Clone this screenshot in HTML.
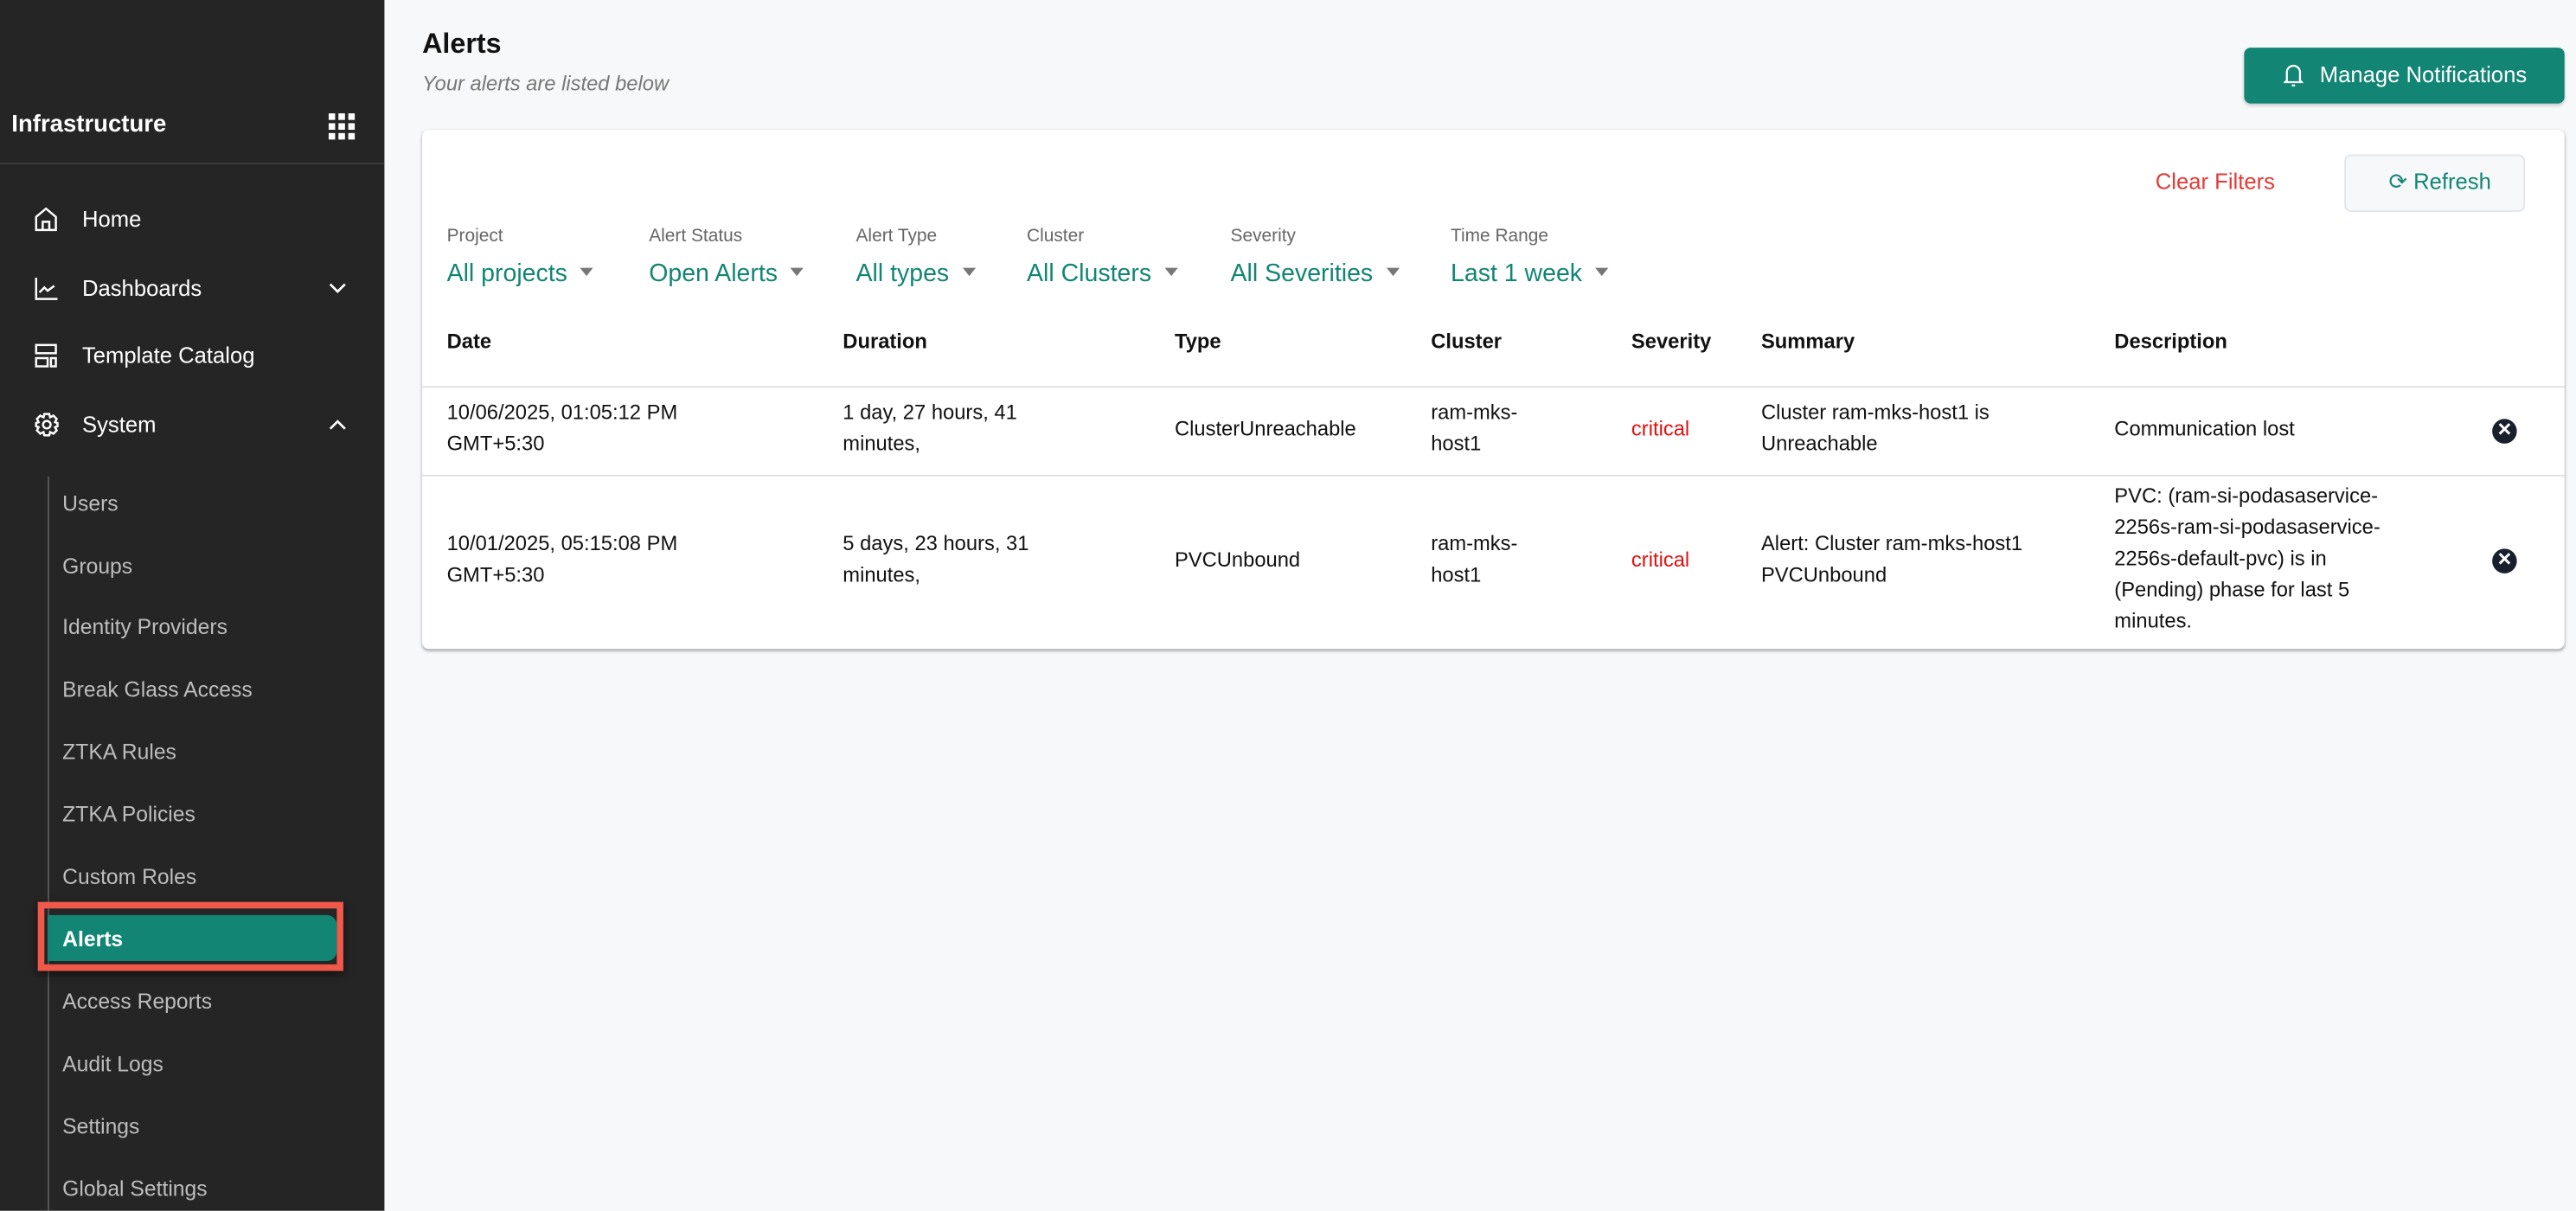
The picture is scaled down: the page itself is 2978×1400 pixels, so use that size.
<!DOCTYPE html>
<html><head><meta charset="utf-8"><style>
html,body{margin:0;padding:0;width:2978px;height:1400px;overflow:hidden;background:#f7f8fa}
#s{position:absolute;left:0;top:0;width:1568px;height:737px;transform:scale(1.89923);transform-origin:0 0;font-family:"Liberation Sans",sans-serif;}
.a{position:absolute;white-space:nowrap;line-height:1}
.side{position:absolute;left:0;top:0;width:234px;height:737px;background:#252525}
.nav{color:#fff;font-size:13.5px}
.sub{color:#bdbdbd;font-size:13px}
.lbl{color:#666;font-size:11px}
.val{color:#128574;font-size:15px}
.car{display:inline-block;width:0;height:0;border-left:4.5px solid transparent;border-right:4.5px solid transparent;border-top:5px solid #777;margin-left:8px;vertical-align:3px}
.th{font-weight:bold;font-size:12.5px;color:#111}
.td{font-size:12.5px;color:#111;line-height:19px}
.crit{color:#e01010;font-size:12.5px}
.x{position:absolute;width:15px;height:15px;border-radius:50%;background:#1a1f2e;color:#fff;font-size:11px;line-height:15px;text-align:center;font-weight:bold}
</style></head><body><div id="s">
<div class="side">
<div class="a" style="left:7px;top:69px;color:#fff;font-weight:bold;font-size:14.5px">Infrastructure</div>
<svg style="position:absolute;left:200px;top:69px" width="16" height="16"><g fill="#fff"><rect x="0" y="0" width="4" height="4"/><rect x="6" y="0" width="4" height="4"/><rect x="12" y="0" width="4" height="4"/><rect x="0" y="6" width="4" height="4"/><rect x="6" y="6" width="4" height="4"/><rect x="12" y="6" width="4" height="4"/><rect x="0" y="12" width="4" height="4"/><rect x="6" y="12" width="4" height="4"/><rect x="12" y="12" width="4" height="4"/></g></svg>
<div style="position:absolute;left:0;top:99px;width:234px;height:1px;background:#3c3c3c"></div>
<svg style="position:absolute;left:21px;top:126px" width="14" height="15" fill="none" stroke="#fff" stroke-width="1.3"><path d="M1 6 L7 1 L13 6 V14 H1 Z M5 14 V9 H9 V14"/></svg>
<div class="a nav" style="left:50px;top:127px">Home</div>
<svg style="position:absolute;left:21px;top:168px" width="14" height="15" fill="none" stroke="#fff" stroke-width="1.3"><path d="M1 1 V14 H14 M3 10 L6 7 L8 9 L12 6"/></svg>
<div class="a nav" style="left:50px;top:169px">Dashboards</div>
<svg style="position:absolute;left:200px;top:172px" width="11" height="7" fill="none" stroke="#fff" stroke-width="1.4"><path d="M1 1 L5.5 5.5 L10 1"/></svg>
<svg style="position:absolute;left:21px;top:209px" width="14" height="15" fill="none" stroke="#fff" stroke-width="1.3"><rect x="1" y="1" width="12" height="5"/><rect x="1" y="9" width="7" height="5"/><rect x="10" y="9" width="3" height="5"/></svg>
<div class="a nav" style="left:50px;top:210px">Template Catalog</div>
<svg style="position:absolute;left:21px;top:251px" width="15" height="15" fill="none" stroke="#fff" stroke-width="1.3"><circle cx="7.5" cy="7.5" r="2.3"/><path d="M6 1 H9 L9.5 3 L11.5 2 L13.5 4 L12.5 6 L14 6.5 V8.5 L12.5 9 L13.5 11 L11.5 13 L9.5 12 L9 14 H6 L5.5 12 L3.5 13 L1.5 11 L2.5 9 L1 8.5 V6.5 L2.5 6 L1.5 4 L3.5 2 L5.5 3 Z"/></svg>
<div class="a nav" style="left:50px;top:252px">System</div>
<svg style="position:absolute;left:200px;top:255px" width="11" height="7" fill="none" stroke="#fff" stroke-width="1.4"><path d="M1 6 L5.5 1.5 L10 6"/></svg>
<div style="position:absolute;left:29px;top:290px;width:1px;height:447px;background:#555"></div>
<div class="a sub" style="left:38px;top:300px">Users</div>
<div class="a sub" style="left:38px;top:338px">Groups</div>
<div class="a sub" style="left:38px;top:375px">Identity Providers</div>
<div class="a sub" style="left:38px;top:413px">Break Glass Access</div>
<div class="a sub" style="left:38px;top:451px">ZTKA Rules</div>
<div class="a sub" style="left:38px;top:489px">ZTKA Policies</div>
<div class="a sub" style="left:38px;top:527px">Custom Roles</div>
<div style="position:absolute;left:23px;top:549px;width:178px;height:34px;border:4px solid #f0584a;box-shadow:0 2px 5px rgba(0,0,0,.6)"></div>
<div style="position:absolute;left:29px;top:557px;width:176px;height:28px;background:#128574;border-radius:0 6px 6px 0"></div>
<div class="a" style="left:38px;top:565px;color:#fff;font-weight:bold;font-size:13px">Alerts</div>
<div class="a sub" style="left:38px;top:603px">Access Reports</div>
<div class="a sub" style="left:38px;top:641px">Audit Logs</div>
<div class="a sub" style="left:38px;top:679px">Settings</div>
<div class="a sub" style="left:38px;top:717px">Global Settings</div>
</div>

<div class="a" style="left:257px;top:18px;font-weight:bold;font-size:17px;color:#111">Alerts</div>
<div class="a" style="left:257px;top:45px;font-style:italic;font-size:12.5px;color:#777">Your alerts are listed below</div>
<div style="position:absolute;left:1366px;top:29px;width:195px;height:34px;background:#128574;border-radius:4px;box-shadow:0 1px 2px rgba(0,0,0,.2)"></div>
<svg style="position:absolute;left:1390px;top:38px" width="12" height="16" fill="none" stroke="#fff" stroke-width="1.2"><path d="M2 11 V6 A4 4 0 0 1 10 6 V11 L11 12 H1 Z M5 14 H7"/></svg>
<div class="a" style="left:1412px;top:39px;color:#fff;font-size:13.5px">Manage Notifications</div>

<div style="position:absolute;left:257px;top:79px;width:1304px;height:316px;background:#fff;border-radius:4px;box-shadow:0 1px 2px rgba(0,0,0,.35)"></div>
<div class="a" style="left:1312px;top:104px;color:#e53935;font-size:13.5px">Clear Filters</div>
<div style="position:absolute;left:1427px;top:94px;width:108px;height:33px;background:#f7f8fa;border:1px solid #e2e6ea;border-radius:4px"></div>
<div class="a" style="left:1454px;top:104px;color:#128574;font-size:13.5px">⟳ Refresh</div>

<div class="a lbl" style="left:272px;top:139px">Project</div>
<div class="a lbl" style="left:395px;top:139px">Alert Status</div>
<div class="a lbl" style="left:521px;top:139px">Alert Type</div>
<div class="a lbl" style="left:625px;top:139px">Cluster</div>
<div class="a lbl" style="left:749px;top:139px">Severity</div>
<div class="a lbl" style="left:883px;top:139px">Time Range</div>
<div class="a val" style="left:272px;top:159px">All projects<span class="car"></span></div>
<div class="a val" style="left:395px;top:159px">Open Alerts<span class="car"></span></div>
<div class="a val" style="left:521px;top:159px">All types<span class="car"></span></div>
<div class="a val" style="left:625px;top:159px">All Clusters<span class="car"></span></div>
<div class="a val" style="left:749px;top:159px">All Severities<span class="car"></span></div>
<div class="a val" style="left:883px;top:159px">Last 1 week<span class="car"></span></div>

<div class="a th" style="left:272px;top:202px">Date</div>
<div class="a th" style="left:513px;top:202px">Duration</div>
<div class="a th" style="left:715px;top:202px">Type</div>
<div class="a th" style="left:871px;top:202px">Cluster</div>
<div class="a th" style="left:993px;top:202px">Severity</div>
<div class="a th" style="left:1072px;top:202px">Summary</div>
<div class="a th" style="left:1287px;top:202px">Description</div>
<div style="position:absolute;left:257px;top:235px;width:1304px;height:1px;background:#e0e0e0"></div>
<div style="position:absolute;left:257px;top:289px;width:1304px;height:1px;background:#e0e0e0"></div>

<div class="a td" style="left:272px;top:242px">10/06/2025, 01:05:12 PM<br>GMT+5:30</div>
<div class="a td" style="left:513px;top:242px">1 day, 27 hours, 41<br>minutes,</div>
<div class="a td" style="left:715px;top:252px">ClusterUnreachable</div>
<div class="a td" style="left:871px;top:242px">ram-mks-<br>host1</div>
<div class="a crit" style="left:993px;top:255px">critical</div>
<div class="a td" style="left:1072px;top:242px">Cluster ram-mks-host1 is<br>Unreachable</div>
<div class="a td" style="left:1287px;top:252px">Communication lost</div>
<div class="x" style="left:1517px;top:255px">✕</div>

<div class="a td" style="left:272px;top:322px">10/01/2025, 05:15:08 PM<br>GMT+5:30</div>
<div class="a td" style="left:513px;top:322px">5 days, 23 hours, 31<br>minutes,</div>
<div class="a td" style="left:715px;top:332px">PVCUnbound</div>
<div class="a td" style="left:871px;top:322px">ram-mks-<br>host1</div>
<div class="a crit" style="left:993px;top:335px">critical</div>
<div class="a td" style="left:1072px;top:322px">Alert: Cluster ram-mks-host1<br>PVCUnbound</div>
<div class="a td" style="left:1287px;top:293px">PVC: (ram-si-podasaservice-<br>2256s-ram-si-podasaservice-<br>2256s-default-pvc) is in<br>(Pending) phase for last 5<br>minutes.</div>
<div class="x" style="left:1517px;top:334px">✕</div>
</div></body></html>
